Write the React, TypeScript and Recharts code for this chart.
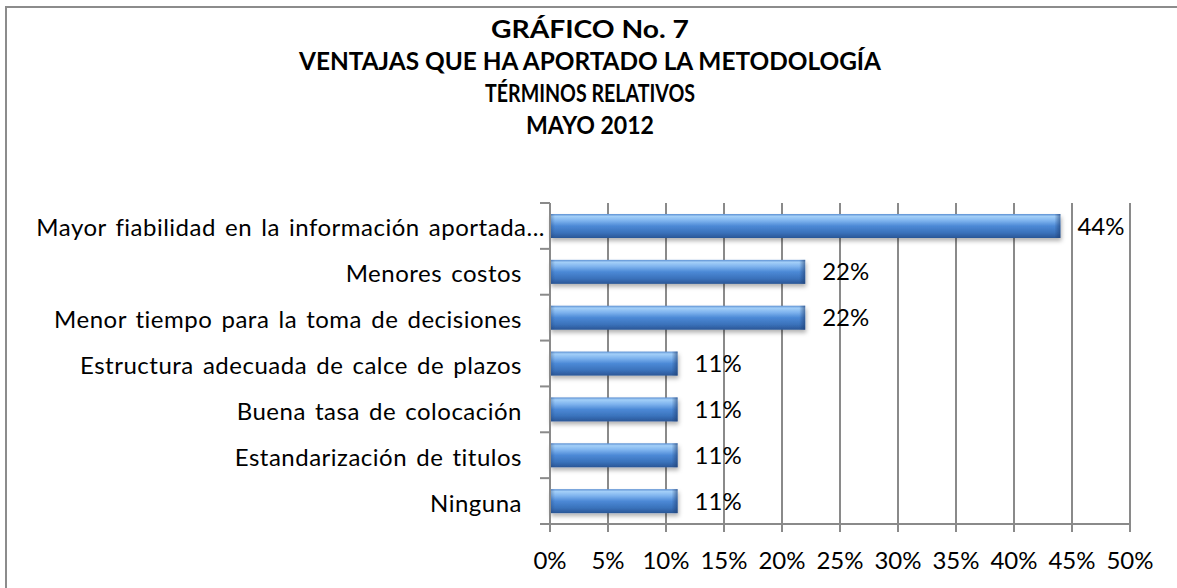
import React from "react";
import { BarChart, Bar, XAxis, YAxis, CartesianGrid, LabelList } from "recharts";

const categories: string[] = [
  "Mayor fiabilidad en la información aportada...",
  "Menores costos",
  "Menor tiempo para la toma de decisiones",
  "Estructura adecuada de calce de plazos",
  "Buena tasa de colocación",
  "Estandarización de titulos",
  "Ninguna",
];
const values: number[] = [44, 22, 22, 11, 11, 11, 11];
const xTicks: number[] = [0, 5, 10, 15, 20, 25, 30, 35, 40, 45, 50];
const titleLines: string[] = [
  "GRÁFICO No. 7",
  "VENTAJAS  QUE HA APORTADO LA METODOLOGÍA",
  "TÉRMINOS RELATIVOS",
  "MAYO 2012",
];

const data = categories.map((c, i) => ({ name: c, value: values[i] }));

const W = 1177;
const H = 588;
const PLOT_TOP = 203;
const PLOT_BOTTOM = 524;
const PLOT_LEFT = 550;
const PLOT_RIGHT = 1130;
const BAND = (PLOT_BOTTOM - PLOT_TOP) / categories.length;
const FONT = "Lato, 'Open Sans', sans-serif";
const GRID = "#8a8a8a";
const TITLE_WIDTHS = [198, 582, 210, 128];

const YTick = (props: any) => {
  const { x, y, payload, index } = props;
  const label: string = payload.value;
  const textX = label.endsWith("...") ? x - 5 : x - 28;
  return (
    <g>
      <line x1={x - 10} x2={x} y1={y - BAND / 2} y2={y - BAND / 2} stroke={GRID} strokeWidth={2} />
      {index === categories.length - 1 && (
        <line x1={x - 10} x2={x} y1={y + BAND / 2} y2={y + BAND / 2} stroke={GRID} strokeWidth={2} />
      )}
      <text
        x={textX}
        y={y + 1}
        textAnchor="end"
        dominantBaseline="central"
        fontSize={24}
        fontFamily={FONT}
        fill="#000"
        style={{ letterSpacing: "0.5px", wordSpacing: "2.5px" }}
      >
        {label}
      </text>
    </g>
  );
};

const BarShape = (props: any) => {
  const { x, y, width, height } = props;
  if (!width || width <= 0) return null;
  return (
    <g filter="url(#barShadow)">
      <rect x={x} y={y} width={width} height={height} fill="url(#barGrad)" />
      <rect x={x + width - 6} y={y} width={6} height={height} fill="url(#capGrad)" />
      <rect x={x} y={y} width={5} height={height} fill="url(#capGradL)" />
    </g>
  );
};

export default function App() {
  return (
    <div style={{ position: "absolute", left: 0, top: 0, width: W, height: H, overflow: "hidden", background: "#fff" }}>
      <div
        style={{
          position: "absolute",
          left: 5,
          top: 6,
          width: 1200,
          height: 620,
          border: "2px solid #8c8c8c",
          boxSizing: "border-box",
        }}
      />
      <svg style={{ position: "absolute", left: 0, top: 0 }} width={W} height={150}>
        {titleLines.map((t, i) => (
          <text
            key={i}
            x={590}
            y={28 + i * 32.3}
            textAnchor="middle"
            dominantBaseline="central"
            fontFamily={FONT}
            fontWeight={700}
            fontSize={24}
            fill="#000"
            textLength={TITLE_WIDTHS[i]}
            lengthAdjust="spacingAndGlyphs"
          >
            {t}
          </text>
        ))}
      </svg>
      <div style={{ position: "absolute", left: 0, top: 0 }}>
        <BarChart
          width={W}
          height={H}
          data={data}
          layout="vertical"
          margin={{ top: PLOT_TOP, bottom: 0, left: 0, right: W - PLOT_RIGHT }}
          barSize={24}
        >
          <defs>
            <linearGradient id="barGrad" x1="0" y1="0" x2="0" y2="1">
              <stop offset="0%" stopColor="#5b8fd2" />
              <stop offset="10%" stopColor="#a3cff8" />
              <stop offset="28%" stopColor="#7eb3ee" />
              <stop offset="50%" stopColor="#4c89d6" />
              <stop offset="78%" stopColor="#3a72bb" />
              <stop offset="100%" stopColor="#2a5696" />
            </linearGradient>
            <linearGradient id="capGrad" x1="0" y1="0" x2="1" y2="0">
              <stop offset="0%" stopColor="#1e3d70" stopOpacity={0} />
              <stop offset="100%" stopColor="#1e3d70" stopOpacity={0.6} />
            </linearGradient>
            <linearGradient id="capGradL" x1="0" y1="0" x2="1" y2="0">
              <stop offset="0%" stopColor="#1e3d70" stopOpacity={0.35} />
              <stop offset="100%" stopColor="#1e3d70" stopOpacity={0} />
            </linearGradient>
            <filter id="barShadow" x="-5%" y="-30%" width="110%" height="180%">
              <feDropShadow dx="1" dy="3" stdDeviation="2" floodColor="#000" floodOpacity="0.3" />
            </filter>
          </defs>
          <CartesianGrid horizontal={false} stroke={GRID} strokeWidth={2} />
          <XAxis
            type="number"
            domain={[0, 50]}
            ticks={xTicks}
            interval={0}
            height={H - PLOT_BOTTOM}
            tickFormatter={(v: number) => `${v}%`}
            axisLine={{ stroke: GRID, strokeWidth: 2 }}
            tickLine={{ stroke: GRID, strokeWidth: 2 }}
            tickSize={8}
            tickMargin={20}
            tick={{ fontSize: 24, fontFamily: FONT, fill: "#000" }}
          />
          <YAxis
            type="category"
            dataKey="name"
            width={PLOT_LEFT}
            axisLine={{ stroke: GRID, strokeWidth: 2 }}
            tickLine={false}
            tickSize={0}
            tickMargin={0}
            interval={0}
            tick={<YTick />}
          />
          <Bar dataKey="value" isAnimationActive={false} shape={<BarShape />}>
            <LabelList
              dataKey="value"
              position="right"
              offset={17}
              formatter={(v: number) => `${v}%`}
              style={{ fontSize: 24, fontFamily: FONT, fill: "#000" }}
            />
          </Bar>
        </BarChart>
      </div>
    </div>
  );
}
